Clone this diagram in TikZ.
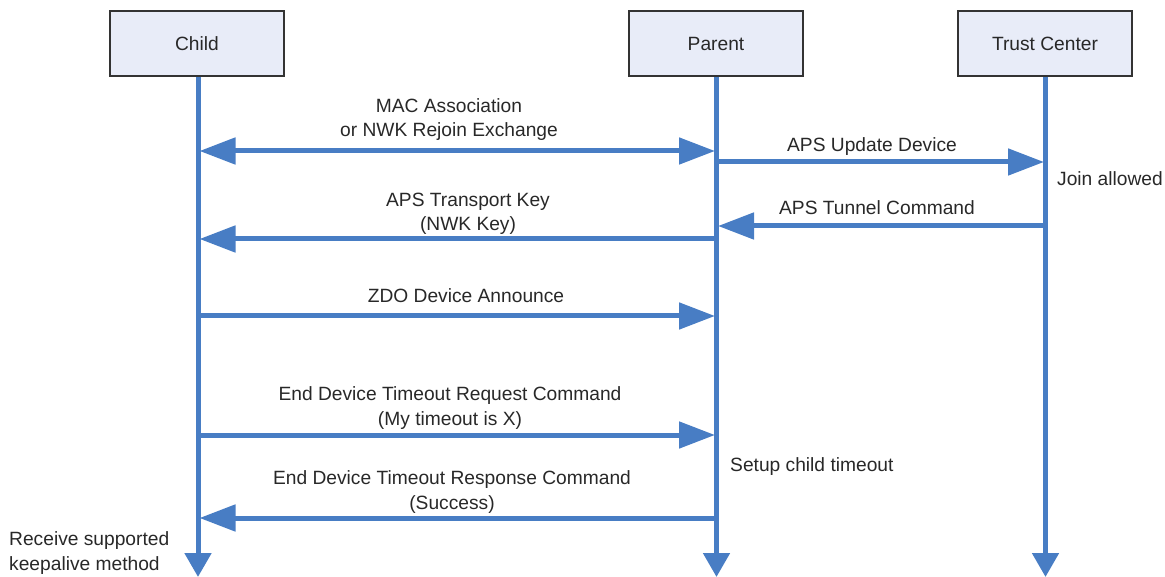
\documentclass[tikz,border=0pt]{standalone}
\usepackage{fontspec}
\setmainfont{Liberation Sans}
\usetikzlibrary{arrows.meta}
\definecolor{lineblue}{RGB}{72,125,196}
\definecolor{boxfill}{RGB}{232,236,248}
\definecolor{txt}{RGB}{40,40,40}
\begin{document}
\begin{tikzpicture}[x=1pt,y=-1pt,
  actor/.style={draw=black!80,line width=1.6pt,fill=boxfill,minimum width=174pt,minimum height=65pt,inner sep=0pt,font=\fontsize{19.2}{23}\selectfont,text=txt},
  lifeline/.style={draw=lineblue,line width=5pt,-{Triangle[length=24pt,width=26pt]}},
  msg/.style={draw=lineblue,line width=5pt,-{Triangle[length=36pt,width=26pt]},shorten >=1.5pt},
  dmsg/.style={draw=lineblue,line width=5pt,{Triangle[length=36pt,width=26pt]}-{Triangle[length=36pt,width=26pt]},shorten >=1.5pt,shorten <=1.5pt},
  lbl/.style={font=\fontsize{19.2}{24.5}\selectfont,text=txt,align=center,inner sep=0pt}
]
\useasboundingbox (0,0) rectangle (1165,577);
% actors
\node[actor] (child) at (197,43.5) {Child};
\node[actor] (parent) at (716,43.5) {Parent};
\node[actor] (tc) at (1045,43.5) {Trust Center};
% lifeline ends
\coordinate (childend) at (198,577);
\coordinate (parentend) at (716.5,577);
\coordinate (tcend) at (1045.5,577);
\draw[lifeline] (child.south -| childend) -- (childend);
\draw[lifeline] (parent.south -| parentend) -- (parentend);
\draw[lifeline] (tc.south -| tcend) -- (tcend);
% message points
\coordinate (c1) at (198,151); \coordinate (p1) at (716.5,151);
\coordinate (p2) at (716.5,162); \coordinate (t2) at (1045.5,162);
\coordinate (t3) at (1045.5,226); \coordinate (p3) at (716.5,226);
\coordinate (p4) at (716.5,239); \coordinate (c4) at (198,239);
\coordinate (c5) at (198,316); \coordinate (p5) at (716.5,316);
\coordinate (c6) at (198,435); \coordinate (p6) at (716.5,435);
\coordinate (p7) at (716.5,518); \coordinate (c7) at (198,518);
% messages
\draw[dmsg] (c1) -- (p1);
\draw[msg] (p2) -- (t2);
\draw[msg] (t3) -- (p3);
\draw[msg] (p4) -- (c4);
\draw[msg] (c5) -- (p5);
\draw[msg] (c6) -- (p6);
\draw[msg] (p7) -- (c7);
% labels (base = baseline of last line)
\node[lbl,anchor=base] (l1) at (449,137) {MAC Association\\or NWK Rejoin Exchange};
\node[lbl,anchor=base] (l2) at (872,152) {APS Update Device};
\node[lbl,anchor=base] (l3) at (877,215) {APS Tunnel Command};
\node[lbl,anchor=base] (l4) at (468,231) {APS Transport Key\\(NWK Key)};
\node[lbl,anchor=base] (l5) at (466,303) {ZDO Device Announce};
\node[lbl,anchor=base] (l6) at (450,425) {End Device Timeout Request Command\\(My timeout is X)};
\node[lbl,anchor=base] (l7) at (452,509) {End Device Timeout Response Command\\(Success)};
\node[lbl,anchor=base west] (n1) at (1057,186) {Join allowed};
\node[lbl,anchor=base west] (n2) at (730,471) {Setup child timeout};
\node[lbl,anchor=base west,align=left] (n3) at (9,570) {Receive supported\\keepalive method};
\end{tikzpicture}
\end{document}
